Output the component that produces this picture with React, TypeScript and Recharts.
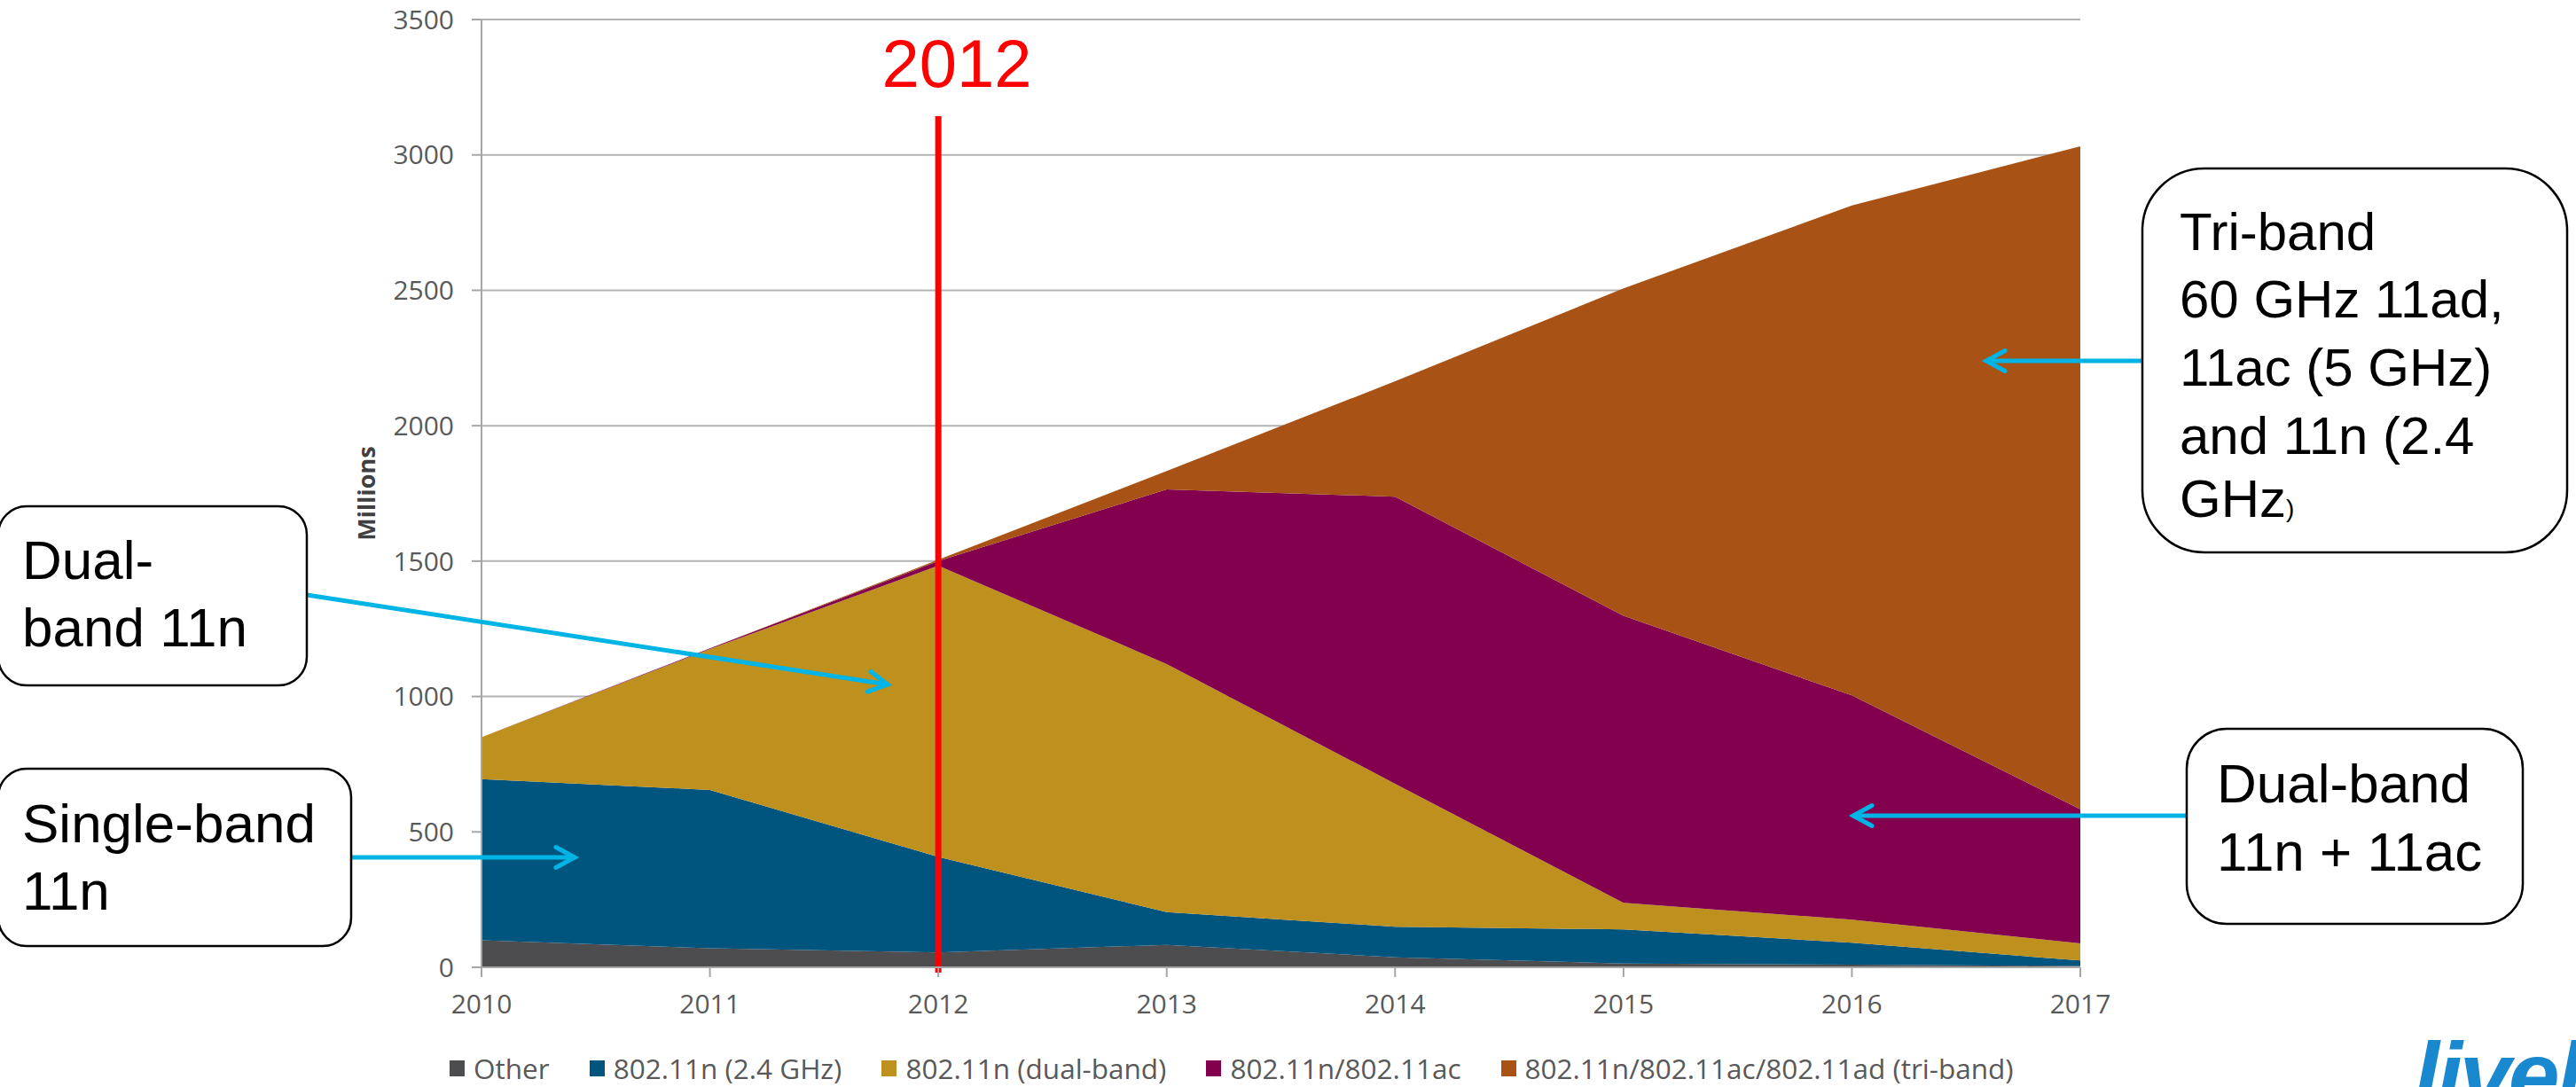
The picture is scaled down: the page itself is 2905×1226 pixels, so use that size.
import React from 'react';
import {
  AreaChart,
  Area,
  XAxis,
  YAxis,
  CartesianGrid,
  Legend,
  ReferenceLine,
} from 'recharts';

// values, millions of devices per year
const years = ['2010', '2011', '2012', '2013', '2014', '2015', '2016', '2017'];
const other = [100, 70, 55, 83, 37, 14, 10, 5];
const n24 = [595, 585, 353, 121, 113, 126, 81, 20];
const nDual = [155, 520, 1075, 916, 528, 98, 85, 63];
const nAc = [0, 3, 17, 645, 1060, 1060, 828, 496];
const triBand = [0, 0, 5, 68, 426, 1209, 1809, 2448];

const yTicks = [0, 500, 1000, 1500, 2000, 2500, 3000, 3500];

const seriesKeys = ['other', 'n24', 'nDual', 'nAc', 'triBand'];
const seriesNames = [
  'Other',
  '802.11n (2.4 GHz)',
  '802.11n (dual-band)',
  '802.11n/802.11ac',
  '802.11n/802.11ac/802.11ad (tri-band)',
];
const seriesColors = ['#4d4d4f', '#00557f', '#be901d', '#82004e', '#a85215'];

const data = years.map((year, i) => ({
  year,
  other: other[i],
  n24: n24[i],
  nDual: nDual[i],
  nAc: nAc[i],
  triBand: triBand[i],
}));

const AXIS_FONT = '"Open Sans", "Noto Sans", sans-serif';
const BOX_FONT = '"Liberation Sans", Arial, sans-serif';
const ARROW = '#00b4e6';

const LegendContent = () => (
  <div
    style={{
      display: 'flex',
      alignItems: 'center',
      height: 40,
      paddingLeft: 507,
      fontFamily: AXIS_FONT,
      fontSize: 31.5,
      color: '#595959',
    }}
  >
    {seriesNames.map((name, i) => (
      <div key={name} style={{ display: 'flex', alignItems: 'center', marginRight: 45 }}>
        <span style={{ width: 17, height: 18, background: seriesColors[i], marginRight: 10 }} />
        <span style={{ lineHeight: '40px', whiteSpace: 'nowrap' }}>{name}</span>
      </div>
    ))}
  </div>
);

const MillionsLabel = (props: any) => {
  const vb = props.viewBox || { x: 0, y: 22, width: 543, height: 1069 };
  const x = vb.x + vb.width - 120;
  const y = vb.y + vb.height / 2;
  return (
    <text
      x={x}
      y={y}
      transform={`rotate(-90 ${x} ${y})`}
      textAnchor="middle"
      fontFamily={AXIS_FONT}
      fontWeight="bold"
      fontSize={27}
      fill="#404040"
    >
      Millions
    </text>
  );
};

const Arrow = ({ x1, y1, x2, y2 }: { x1: number; y1: number; x2: number; y2: number }) => {
  const a = Math.atan2(y2 - y1, x2 - x1);
  const len = 24;
  const s = 0.5;
  const p1 = `${x2 - len * Math.cos(a - s)},${y2 - len * Math.sin(a - s)}`;
  const p2 = `${x2 - len * Math.cos(a + s)},${y2 - len * Math.sin(a + s)}`;
  return (
    <g stroke={ARROW} strokeWidth={5} fill="none" strokeLinecap="round">
      <line x1={x1} y1={y1} x2={x2} y2={y2} />
      <polyline points={`${p1} ${x2},${y2} ${p2}`} />
    </g>
  );
};

const Box = ({ x, y, w, h, r, children }: any) => (
  <g>
    <rect x={x} y={y} width={w} height={h} rx={r} ry={r} fill="#ffffff" stroke="#000000" strokeWidth={2.5} />
    {children}
  </g>
);

export default function App() {
  return (
    <div style={{ position: 'relative', width: 2905, height: 1226, background: '#ffffff', overflow: 'hidden' }}>
      <style>{'body{margin:0}'}</style>
      <AreaChart
        width={2905}
        height={1226}
        data={data}
        margin={{ top: 22, right: 559, bottom: 1, left: 0 }}
      >
        <CartesianGrid vertical={false} stroke="#b3b3b3" strokeWidth={2} />
        <XAxis
          dataKey="year"
          interval={0}
          height={94}
          tickSize={11}
          tickMargin={20}
          stroke="#a6a6a6"
          axisLine={{ stroke: '#a6a6a6', strokeWidth: 2 }}
          tickLine={{ stroke: '#a6a6a6', strokeWidth: 2 }}
          tick={{ fill: '#595959', fontSize: 30, fontFamily: AXIS_FONT }}
        />
        <YAxis
          domain={[0, 3500]}
          ticks={yTicks}
          width={543}
          tickSize={11}
          tickMargin={20}
          axisLine={{ stroke: '#a6a6a6', strokeWidth: 2 }}
          tickLine={{ stroke: '#a6a6a6', strokeWidth: 2 }}
          tick={{ fill: '#595959', fontSize: 30, fontFamily: AXIS_FONT }}
          label={<MillionsLabel />}
        />
        <Legend
          verticalAlign="bottom"
          align="left"
          content={<LegendContent />}
          wrapperStyle={{ left: 0, width: 2905, bottom: 1 }}
        />
        {seriesKeys.map((key, i) => (
          <Area
            key={key}
            type="linear"
            dataKey={key}
            name={seriesNames[i]}
            stackId="a"
            stroke="none"
            fill={seriesColors[i]}
            fillOpacity={1}
            dot={false}
            activeDot={false}
            isAnimationActive={false}
          />
        ))}
        <ReferenceLine
          segment={[
            { x: '2012', y: -20 },
            { x: '2012', y: 3143 },
          ]}
          stroke="#ff0000"
          strokeWidth={7}
          ifOverflow="visible"
        />
      </AreaChart>

      <svg
        width={2905}
        height={1226}
        style={{ position: 'absolute', left: 0, top: 0, pointerEvents: 'none' }}
      >
        <text x={1079} y={98} textAnchor="middle" fontFamily={BOX_FONT} fontSize={76} fill="#ff0000">
          2012
        </text>

        <Arrow x1={346} y1={671} x2={1001} y2={772} />
        <Arrow x1={396} y1={967} x2={648} y2={967} />
        <Arrow x1={2416} y1={407} x2={2240} y2={407} />
        <Arrow x1={2466} y1={920} x2={2090} y2={920} />

        <Box x={-2} y={571} w={348} h={202} r={32}>
          <text fontFamily={BOX_FONT} fontSize={62} fill="#000">
            <tspan x={25} y={653}>Dual-</tspan>
            <tspan x={25} y={729}>band 11n</tspan>
          </text>
        </Box>

        <Box x={-2} y={867} w={398} h={200} r={32}>
          <text fontFamily={BOX_FONT} fontSize={62} fill="#000">
            <tspan x={25} y={950}>Single-band</tspan>
            <tspan x={25} y={1026}>11n</tspan>
          </text>
        </Box>

        <Box x={2416} y={190} w={479} h={433} r={70}>
          <text fontFamily={BOX_FONT} fontSize={60} fill="#000">
            <tspan x={2458} y={282}>Tri-band</tspan>
            <tspan x={2458} y={358}>60 GHz 11ad,</tspan>
            <tspan x={2458} y={435}>11ac (5 GHz)</tspan>
            <tspan x={2458} y={512}>and 11n (2.4</tspan>
            <tspan x={2458} y={583}>GHz</tspan>
            <tspan fontSize={28}>)</tspan>
          </text>
        </Box>

        <Box x={2466} y={822} w={379} h={220} r={45}>
          <text fontFamily={BOX_FONT} fontSize={62} fill="#000">
            <tspan x={2500} y={905}>Dual-band</tspan>
            <tspan x={2500} y={982}>11n + 11ac</tspan>
          </text>
        </Box>

        <text
          x={2722}
          y={1248}
          fontFamily={BOX_FONT}
          fontStyle="italic"
          fontWeight="bold"
          fontSize={104}
          fill="#1a88cf"
          letterSpacing={-3}
        >
          livel
        </text>
      </svg>
    </div>
  );
}
